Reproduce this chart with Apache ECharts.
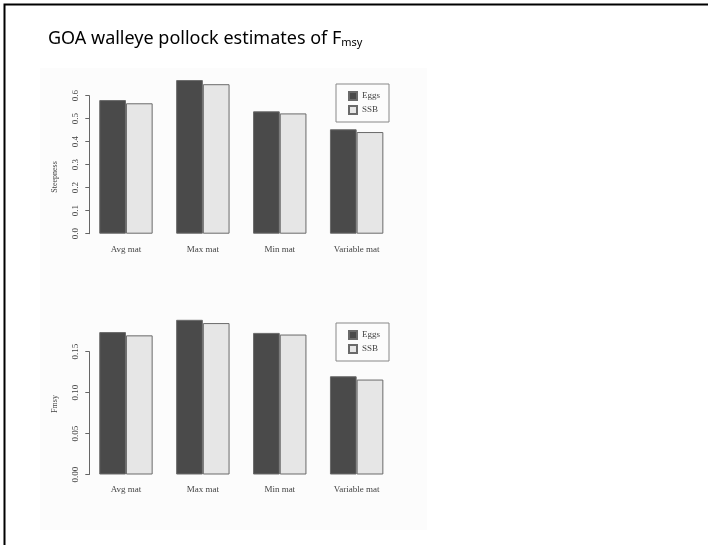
<!DOCTYPE html>
<html><head><meta charset="utf-8">
<script src="https://cdn.jsdelivr.net/npm/echarts@6/dist/echarts.min.js"></script>
<style>html,body{margin:0;padding:0;background:#fff}#c{width:708px;height:545px}</style>
</head><body><div id="c"></div>
<script>
const categories = ['Avg mat', 'Max mat', 'Min mat', 'Variable mat'];
const seriesNames = ['Eggs', 'SSB'];
const steepEggs = [0.581, 0.668, 0.532, 0.454];
const steepSSB = [0.567, 0.650, 0.523, 0.442];
const fmsyEggs = [0.174, 0.189, 0.173, 0.120];
const fmsySSB = [0.170, 0.185, 0.171, 0.116];
const steepTicks = { min: 0, max: 0.6, interval: 0.1 };
const fmsyTicks = { min: 0, max: 0.15, interval: 0.05 };

const serif = 'Liberation Serif, DejaVu Serif, serif';
const darkFill = '#4a4a4a', lightFill = '#e6e6e6';
const axisCol = '#666', textCol = '#444';

const chart = echarts.init(document.getElementById('c'), null, { renderer: 'canvas' });

function barSeries(name, data, xi, yi, fill) {
  return {
    type: 'bar', name, data, xAxisIndex: xi, yAxisIndex: yi,
    barWidth: 26.7, barGap: '0%',
    itemStyle: { color: fill, borderColor: '#6a6a6a', borderWidth: 1 },
    emphasis: { disabled: true }, animation: false
  };
}
function catAxis(gi) {
  return {
    type: 'category', gridIndex: gi, data: categories,
    axisLine: { show: false }, axisTick: { show: false },
    axisLabel: { color: textCol, fontFamily: serif, fontSize: 9, margin: 11 }
  };
}
function hiddenX(gi) { return { type: 'value', gridIndex: gi, show: false, min: 0, max: 1 }; }
function valAxis(gi, t) {
  return {
    type: 'value', gridIndex: gi, min: t.min, max: t.max, interval: t.interval,
    splitLine: { show: false },
    axisLine: { show: true, lineStyle: { color: axisCol, width: 1 } },
    axisTick: { show: true, length: 4, lineStyle: { color: axisCol } },
    axisLabel: { rotate: 90, color: textCol, fontFamily: serif, fontSize: 9, margin: 9,
      formatter: v => t.interval < 0.1 ? v.toFixed(2) : v.toFixed(1) }
  };
}
function hiddenY(gi, max) { return { type: 'value', gridIndex: gi, show: false, min: 0, max }; }
function legend(top) {
  return {
    data: seriesNames, left: 336, top, orient: 'vertical',
    itemWidth: 8, itemHeight: 8, itemGap: 4, icon: 'rect',
    padding: [7, 9, 7, 12], borderColor: '#888', borderWidth: 1,
    textStyle: { color: textCol, fontFamily: serif, fontSize: 9 },
    selectedMode: false
  };
}

chart.setOption({
  animation: false,
  backgroundColor: '#fff',
  title: {
    text: 'GOA walleye pollock estimates of F{s|msy}',
    left: 43, top: 24,
    textStyle: {
      fontFamily: 'Noto Sans, DejaVu Sans, sans-serif', fontSize: 18, fontWeight: 'normal', color: '#000',
      rich: { s: { fontSize: 11, verticalAlign: 'bottom', padding: [8, 0, 0, 0], fontFamily: 'Noto Sans, sans-serif', color: '#000' } }
    }
  },
  graphic: [
    { type: 'rect', z: -10, shape: { x: 4.5, y: 4.5, width: 800, height: 700 },
      style: { fill: '#fff', stroke: '#000', lineWidth: 2 } },
    { type: 'rect', z: -9, shape: { x: 40, y: 68, width: 387, height: 462 },
      style: { fill: '#fcfcfc', stroke: null } },
    { type: 'text', x: 55, y: 177, rotation: Math.PI / 2, z: 5,
      style: { text: 'Steepness', fill: textCol, font: '8px ' + serif, textAlign: 'center', textVerticalAlign: 'middle' } },
    { type: 'text', x: 55, y: 404, rotation: Math.PI / 2, z: 5,
      style: { text: 'Fmsy', fill: textCol, font: '8px ' + serif, textAlign: 'center', textVerticalAlign: 'middle' } }
  ],
  legend: [legend(84), legend(323)],
  grid: [
    { left: 87.5, width: 307.6, top: 72.7, height: 161 },
    { left: 89.3, width: 300, top: 95.7, height: 138 },
    { left: 87.5, width: 307.6, top: 310.8, height: 163.7 },
    { left: 89.3, width: 300, top: 351.7, height: 122.8 }
  ],
  xAxis: [catAxis(0), hiddenX(1), catAxis(2), hiddenX(3)],
  yAxis: [hiddenY(0, 0.7), valAxis(1, steepTicks), hiddenY(2, 0.2), valAxis(3, fmsyTicks)],
  series: [
    barSeries(seriesNames[0], steepEggs, 0, 0, darkFill),
    barSeries(seriesNames[1], steepSSB, 0, 0, lightFill),
    barSeries(seriesNames[0], fmsyEggs, 2, 2, darkFill),
    barSeries(seriesNames[1], fmsySSB, 2, 2, lightFill),
    { type: 'scatter', xAxisIndex: 1, yAxisIndex: 1, data: [], silent: true },
    { type: 'scatter', xAxisIndex: 3, yAxisIndex: 3, data: [], silent: true }
  ]
});
</script></body></html>
